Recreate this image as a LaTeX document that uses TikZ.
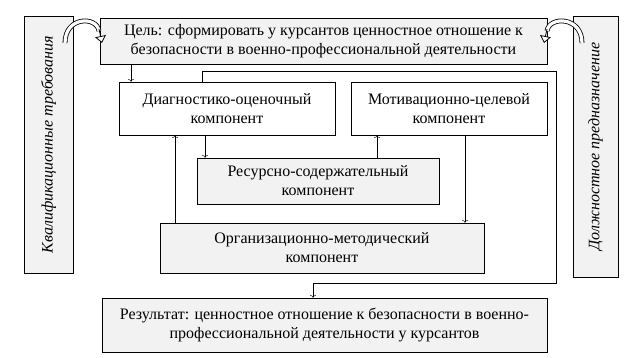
\documentclass[tikz,border=0pt]{standalone}
\usepackage{fontspec}
\setmainfont{Liberation Serif}
\usetikzlibrary{arrows.meta}
\definecolor{nenxam}{RGB}{242,242,242}
\tikzset{
  khung/.style={draw, line width=0.6pt, align=center, inner sep=2pt,
    font=\fontsize{16}{19}\selectfont},
  khungxam/.style={khung, fill=nenxam},
  khungdoc/.style={draw, line width=0.6pt, fill=nenxam, inner sep=0pt,
    font=\fontsize{16}{19}\selectfont\itshape},
  muiten/.style={->, line width=0.5pt},
  cong/.style={line width=0.8pt, double=white, double distance=3.2pt},
  daucong/.style={line width=0.8pt, -{Triangle[fill=white, length=7pt, width=11pt]}}
}
\begin{document}
\begin{tikzpicture}[x=1pt, y=-1pt]
    \useasboundingbox (0,0) rectangle (630,358);
    % Hai khung dọc hai bên
    \node[khungdoc, minimum width=49pt, minimum height=257pt] (yeucau) at (48.5,144.5)
      {\rotatebox{90}{Квалификационные требования}};
    \node[khungdoc, minimum width=45pt, minimum height=261pt] (chucnang) at (595.5,146.5)
      {\rotatebox{90}{Должностное предназначение}};

    % Mục tiêu và kết quả
    \node[khungxam, minimum width=447pt, minimum height=46pt] (muctieu) at (323.5,41)
      {Цель: сформировать у курсантов ценностное отношение к\\безопасности в военно-профессиональной деятельности};
    \node[khungxam, minimum width=445pt, minimum height=54pt] (ketqua) at (324.5,325)
      {Результат: ценностное отношение к безопасности в военно-\\профессиональной деятельности у курсантов};

    % Các thành phần
    \node[khung, minimum width=216pt, minimum height=53pt] (chandoan) at (227,108.5)
      {Диагностико-оценочный\\компонент};
    \node[khung, minimum width=196pt, minimum height=53pt] (dongco) at (449,108.5)
      {Мотивационно-целевой\\компонент};
    \node[khungxam, minimum width=242pt, minimum height=46pt] (nguonluc) at (318,181)
      {Ресурсно-содержательный\\компонент};
    \node[khungxam, minimum width=324pt, minimum height=50pt] (tochuc) at (322,248)
      {Организационно-методический\\компонент};

    % Các mũi tên
    \draw[muiten] (muctieu.south -| 131,0) -- (chandoan.north -| 131,0);
    \draw[muiten] (chandoan.south -| 205,0) -- (nguonluc.north -| 205,0);
    \draw[muiten] (nguonluc.north -| 377,0) -- (dongco.south -| 377,0);
    \draw[muiten] (dongco.south -| 465,0) -- (tochuc.north -| 465,0);
    \draw[muiten] (tochuc.north -| 175,0) -- (chandoan.south -| 175,0);

    % Vòng ngoài dẫn tới kết quả
    \coordinate (goc1) at (556,71);
    \coordinate (goc2) at (313,283);
    \draw[muiten] (chandoan.north -| 202,0) |- (goc1) |- (goc2) -- (ketqua.north -| 313,0);

    % Mũi tên cong
    \coordinate (traiduoi) at (65,43);
    \coordinate (traicuoi) at (99,31);
    \draw[cong] (traiduoi) .. controls (65,16) and (97,16) .. (traicuoi);
    \draw[daucong] (99,29) -- (102,43);
    \coordinate (phaiduoi) at (582,43);
    \coordinate (phaicuoi) at (547,31);
    \draw[cong] (phaiduoi) .. controls (582,16) and (549,16) .. (phaicuoi);
    \draw[daucong] (547,29) -- (544,43);
\end{tikzpicture}
\end{document}
